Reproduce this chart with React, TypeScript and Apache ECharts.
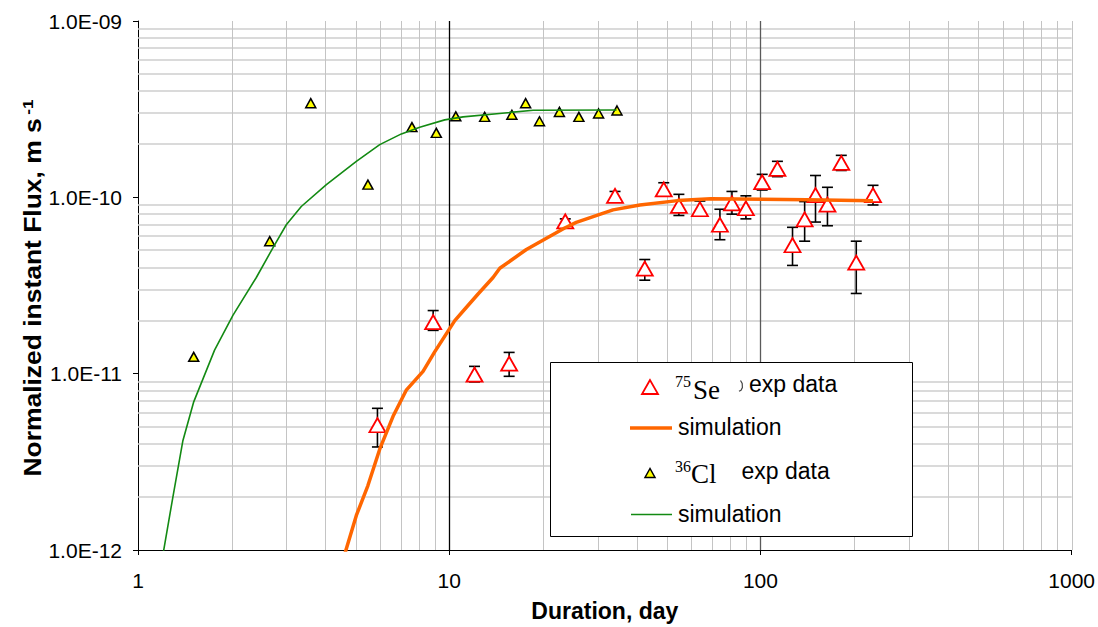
import { useEffect, useRef } from 'react';
import * as echarts from 'echarts';

// ---------- tick labels ----------
const xTickLabels = ['1', '10', '100', '1000'];
const yTickLabels = ['1.0E-12', '1.0E-11', '1.0E-10', '1.0E-09'];

// ---------- 75Se experimental data ----------
const seX = [5.88, 8.88, 12.06, 15.58, 23.6, 34.1, 42.5, 48.9, 54.7, 63.9, 74.1, 81.0, 89.8, 101.3, 113.4, 126.8, 138.7, 150.3, 164.2, 181.9, 203.2, 230.0];
const seY = [5.1e-12, 1.96e-11, 9.87e-12, 1.14e-11, 7.3e-11, 1.02e-10, 3.94e-11, 1.11e-10, 8.94e-11, 8.56e-11, 6.99e-11, 9.25e-11, 8.67e-11, 1.22e-10, 1.45e-10, 5.35e-11, 7.49e-11, 1.03e-10, 9.1e-11, 1.57e-10, 4.26e-11, 1.03e-10];
const seErrHigh = [6.36e-12, 2.28e-11, 1.1e-11, 1.32e-11, 7.55e-11, 1.08e-10, 4.44e-11, 1.21e-10, 1.04e-10, 9.53e-11, 8.56e-11, 1.08e-10, 1.02e-10, 1.35e-10, 1.6e-10, 6.76e-11, 9.46e-11, 1.33e-10, 1.14e-10, 1.73e-10, 5.64e-11, 1.17e-10];
const seErrLow = [3.84e-12, 1.76e-11, 8.98e-12, 9.66e-12, 7.06e-11, 9.63e-11, 3.39e-11, 1.02e-10, 7.89e-11, 7.9e-11, 5.75e-11, 8.03e-11, 7.55e-11, 1.1e-10, 1.31e-10, 4.11e-11, 5.64e-11, 7.24e-11, 6.9e-11, 1.42e-10, 2.85e-11, 9.05e-11];

// ---------- 75Se simulation ----------
const seSimX = [4.59, 5.03, 5.48, 5.98, 6.6, 7.29, 8.24, 8.98, 10.42, 11.36, 12.38, 13.83, 14.54, 17.7, 23.5, 25.6, 33.6, 41.0, 54.2, 69.3, 141, 230];
const seSimY = [9.17e-13, 1.57e-12, 2.32e-12, 3.73e-12, 5.73e-12, 8.1e-12, 1.03e-11, 1.33e-11, 2.0e-11, 2.38e-11, 2.83e-11, 3.51e-11, 3.96e-11, 5.06e-11, 6.7e-11, 7.21e-11, 8.49e-11, 9.05e-11, 9.58e-11, 9.81e-11, 9.68e-11, 9.55e-11];

// ---------- 36Cl experimental data ----------
const clX = [1.51, 2.65, 3.59, 5.48, 7.59, 9.09, 10.5, 13.0, 15.9, 17.6, 19.5, 22.6, 26.1, 30.2, 34.6];
const clY = [1.246e-11, 5.64e-11, 3.42e-10, 1.18e-10, 2.5e-10, 2.32e-10, 2.88e-10, 2.86e-10, 2.94e-10, 3.42e-10, 2.7e-10, 3.05e-10, 2.86e-10, 2.99e-10, 3.11e-10];

// ---------- 36Cl simulation ----------
const clSimX = [1.2, 1.294, 1.393, 1.508, 1.762, 2.018, 2.4, 2.713, 2.996, 3.347, 4.03, 5.03, 5.98, 7.02, 8.04, 9.67, 11.08, 14.5, 18.6, 34.5];
const clSimY = [9.2e-13, 1.99e-12, 4.15e-12, 6.87e-12, 1.36e-11, 2.14e-11, 3.51e-11, 5.17e-11, 6.99e-11, 8.87e-11, 1.18e-10, 1.6e-10, 1.99e-10, 2.29e-10, 2.5e-10, 2.75e-10, 2.86e-10, 2.99e-10, 3.12e-10, 3.13e-10];

const SANS = '"Liberation Sans", Arial, sans-serif';
const SERIF = '"Liberation Serif", "Times New Roman", serif';

function buildOption() {
  const zip = (xs: number[], ys: number[]) => xs.map((x, i) => [x, ys[i]]);

  // grid line positions (minor: 2..9 of every decade; major verticals at 10 and 100)
  const gridX: number[] = [];
  [1, 10, 100].forEach((d) => {
    for (let k = 2; k <= 9; k++) gridX.push(k * d);
  });
  gridX.push(1000, 10, 100);
  const gridY: number[] = [];
  [1e-12, 1e-11, 1e-10].forEach((d) => {
    for (let k = 2; k <= 9; k++) gridY.push(k * d);
  });

  const legendItems: any[] = [
    { type: 'rect', shape: { x: 550.5, y: 362.5, width: 362, height: 174 }, style: { fill: '#ffffff', stroke: '#000', lineWidth: 1 } },
    { type: 'polygon', shape: { points: [[650, 380], [642, 394], [658, 394]] }, style: { fill: '#ffffff', stroke: '#ff0000', lineWidth: 1.8 } },
    { type: 'text', x: 675, y: 381.3, style: { text: '75', fontFamily: SERIF, fontSize: 16, fill: '#000', verticalAlign: 'middle' } },
    { type: 'text', x: 693, y: 390, style: { text: 'Se', fontFamily: SERIF, fontSize: 27, fill: '#000', verticalAlign: 'middle' } },
    { type: 'polyline', shape: { points: [[740.5, 380.5], [742.2, 383.5], [742.4, 387.5], [741, 390.2], [739, 391.3]] }, style: { stroke: '#444', lineWidth: 1.2, fill: 'none' } },
    { type: 'text', x: 749, y: 384, style: { text: 'exp data', fontFamily: SANS, fontSize: 23, fill: '#000', verticalAlign: 'middle' } },
    { type: 'line', shape: { x1: 630, y1: 428, x2: 672, y2: 428 }, style: { stroke: '#ff6600', lineWidth: 3.5 } },
    { type: 'text', x: 678, y: 427, style: { text: 'simulation', fontFamily: SANS, fontSize: 23, fill: '#000', verticalAlign: 'middle' } },
    { type: 'polygon', shape: { points: [[650, 468.5], [645, 477.5], [655, 477.5]] }, style: { fill: '#ffff00', stroke: '#000', lineWidth: 1.5 } },
    { type: 'text', x: 675, y: 466.6, style: { text: '36', fontFamily: SERIF, fontSize: 16, fill: '#000', verticalAlign: 'middle' } },
    { type: 'text', x: 691, y: 474.2, style: { text: 'Cl', fontFamily: SERIF, fontSize: 27, fill: '#000', verticalAlign: 'middle' } },
    { type: 'text', x: 741.5, y: 471, style: { text: 'exp data', fontFamily: SANS, fontSize: 23, fill: '#000', verticalAlign: 'middle' } },
    { type: 'line', shape: { x1: 631, y1: 514.5, x2: 672, y2: 514.5 }, style: { stroke: '#138a13', lineWidth: 1.6 } },
    { type: 'text', x: 678, y: 513.7, style: { text: 'simulation', fontFamily: SANS, fontSize: 23, fill: '#000', verticalAlign: 'middle' } },
  ].map((el, i) => ({ ...el, z: 20, z2: i, silent: true }));

  return {
    animation: false,
    backgroundColor: '#ffffff',
    grid: { left: 138, top: 21, width: 934, height: 534, containLabel: false },
    xAxis: {
      type: 'log',
      logBase: 10,
      min: 1,
      max: 1000,
      name: 'Duration, day',
      nameLocation: 'middle',
      nameGap: 49,
      nameTextStyle: { fontFamily: SANS, fontWeight: 'bold', fontSize: 23, color: '#000' },
      axisLine: { show: true, lineStyle: { color: '#000', width: 1 } },
      axisTick: { show: true, length: 5, lineStyle: { color: '#000' } },
      axisLabel: {
        margin: 20,
        fontFamily: SANS,
        fontSize: 21,
        color: '#000',
        formatter: (v: number) => xTickLabels[Math.round(Math.log10(v))] ?? '',
      },
      splitLine: { show: false },
      minorTick: { show: false },
    },
    yAxis: {
      type: 'log',
      logBase: 10,
      min: 1e-12,
      max: 1e-9,
      axisLine: { show: true, lineStyle: { color: '#000', width: 1 } },
      axisTick: { show: true, length: 5, lineStyle: { color: '#000' } },
      axisLabel: {
        margin: 16,
        fontFamily: SANS,
        fontSize: 21,
        color: '#000',
        formatter: (v: number) => yTickLabels[Math.round(Math.log10(v)) + 12] ?? '',
      },
      splitLine: { show: false },
      minorTick: { show: false },
    },
    series: [
      {
        type: 'custom',
        name: 'grid-h',
        coordinateSystem: 'cartesian2d',
        data: gridY.map((y) => [1, y]),
        encode: { x: 0, y: 1 },
        silent: true,
        z: 1,
        renderItem: (params: any, api: any) => {
          const cs = params.coordSys;
          const p = api.coord([1, api.value(1)]);
          const y = Math.round(p[1]);
          return {
            type: 'line',
            shape: { x1: cs.x, y1: y, x2: cs.x + cs.width, y2: y },
            style: { stroke: '#cecece', lineWidth: 1.6 },
          };
        },
      },
      {
        type: 'custom',
        name: 'grid-v',
        coordinateSystem: 'cartesian2d',
        data: gridX.map((x) => [x, 1e-12]),
        encode: { x: 0, y: 1 },
        silent: true,
        z: 1,
        renderItem: (params: any, api: any) => {
          const cs = params.coordSys;
          const v = api.value(0);
          const p = api.coord([v, 1e-12]);
          const x = Math.round(p[0]) + 0.5;
          const major = Math.abs(v - 10) < 1e-9 || Math.abs(v - 100) < 1e-9;
          const color = Math.abs(v - 10) < 1e-9 ? '#000000' : major ? '#5a5a5a' : '#c4c4c4';
          return {
            type: 'line',
            z2: major ? 5 : 1,
            shape: { x1: x, y1: cs.y, x2: x, y2: cs.y + cs.height },
            style: { stroke: color, lineWidth: major ? 1.3 : 1 },
          };
        },
      },
      {
        type: 'custom',
        name: 'Se error',
        coordinateSystem: 'cartesian2d',
        data: seX.map((x, i) => [x, seErrLow[i], seErrHigh[i]]),
        encode: { x: 0, y: [1, 2] },
        z: 3,
        silent: true,
        renderItem: (_p: any, api: any) => {
          const x = api.value(0);
          const pLo = api.coord([x, api.value(1)]);
          const pHi = api.coord([x, api.value(2)]);
          const cap = 5.5;
          const style = { stroke: '#000', lineWidth: 1.6 };
          return {
            type: 'group',
            children: [
              { type: 'line', shape: { x1: pHi[0], y1: pHi[1], x2: pLo[0], y2: pLo[1] }, style },
              { type: 'line', shape: { x1: pHi[0] - cap, y1: pHi[1], x2: pHi[0] + cap, y2: pHi[1] }, style },
              { type: 'line', shape: { x1: pLo[0] - cap, y1: pLo[1], x2: pLo[0] + cap, y2: pLo[1] }, style },
            ],
          };
        },
      },
      {
        type: 'scatter',
        name: '75Se exp data',
        data: zip(seX, seY),
        symbol: 'triangle',
        symbolSize: [16, 14],
        itemStyle: { color: '#ffffff', borderColor: '#ff0000', borderWidth: 1.8, opacity: 1 },
        z: 4,
      },
      {
        type: 'line',
        name: '75Se simulation',
        data: zip(seSimX, seSimY),
        symbol: 'none',
        showSymbol: false,
        clip: true,
        lineStyle: { color: '#ff6600', width: 3.5 },
        z: 5,
      },
      {
        type: 'scatter',
        name: '36Cl exp data',
        data: zip(clX, clY),
        symbol: 'triangle',
        symbolSize: [10, 9],
        itemStyle: { color: '#ffff00', borderColor: '#000000', borderWidth: 1.5, opacity: 1 },
        z: 6,
      },
      {
        type: 'line',
        name: '36Cl simulation',
        data: zip(clSimX, clSimY),
        symbol: 'none',
        showSymbol: false,
        clip: true,
        lineStyle: { color: '#138a13', width: 1.6 },
        z: 7,
      },
    ],
    graphic: [
      {
        type: 'text',
        x: 33,
        y: 288,
        rotation: Math.PI / 2,
        scaleX: 1.15,
        z: 10,
        style: {
          text: '{a|Normalized instant Flux, m s}{b|-1}',
          rich: {
            a: { fontFamily: SANS, fontWeight: 'bold', fontSize: 23, lineHeight: 26, fill: '#000' },
            b: { fontFamily: SANS, fontWeight: 'bold', fontSize: 15, lineHeight: 15, fill: '#000', verticalAlign: 'top', padding: [0, 0, 0, 3] },
          },
          align: 'center',
          verticalAlign: 'middle',
        },
      },
      ...legendItems,
    ],
  };
}

export default function App() {
  const ref = useRef<HTMLDivElement>(null);
  useEffect(() => {
    if (!ref.current) return;
    const chart = echarts.init(ref.current, null, { renderer: 'svg' });
    chart.setOption(buildOption() as any);
    return () => chart.dispose();
  }, []);
  return (
    <div
      ref={ref}
      style={{ position: 'absolute', left: 0, top: 0, width: 1098, height: 627, background: '#ffffff' }}
    />
  );
}
